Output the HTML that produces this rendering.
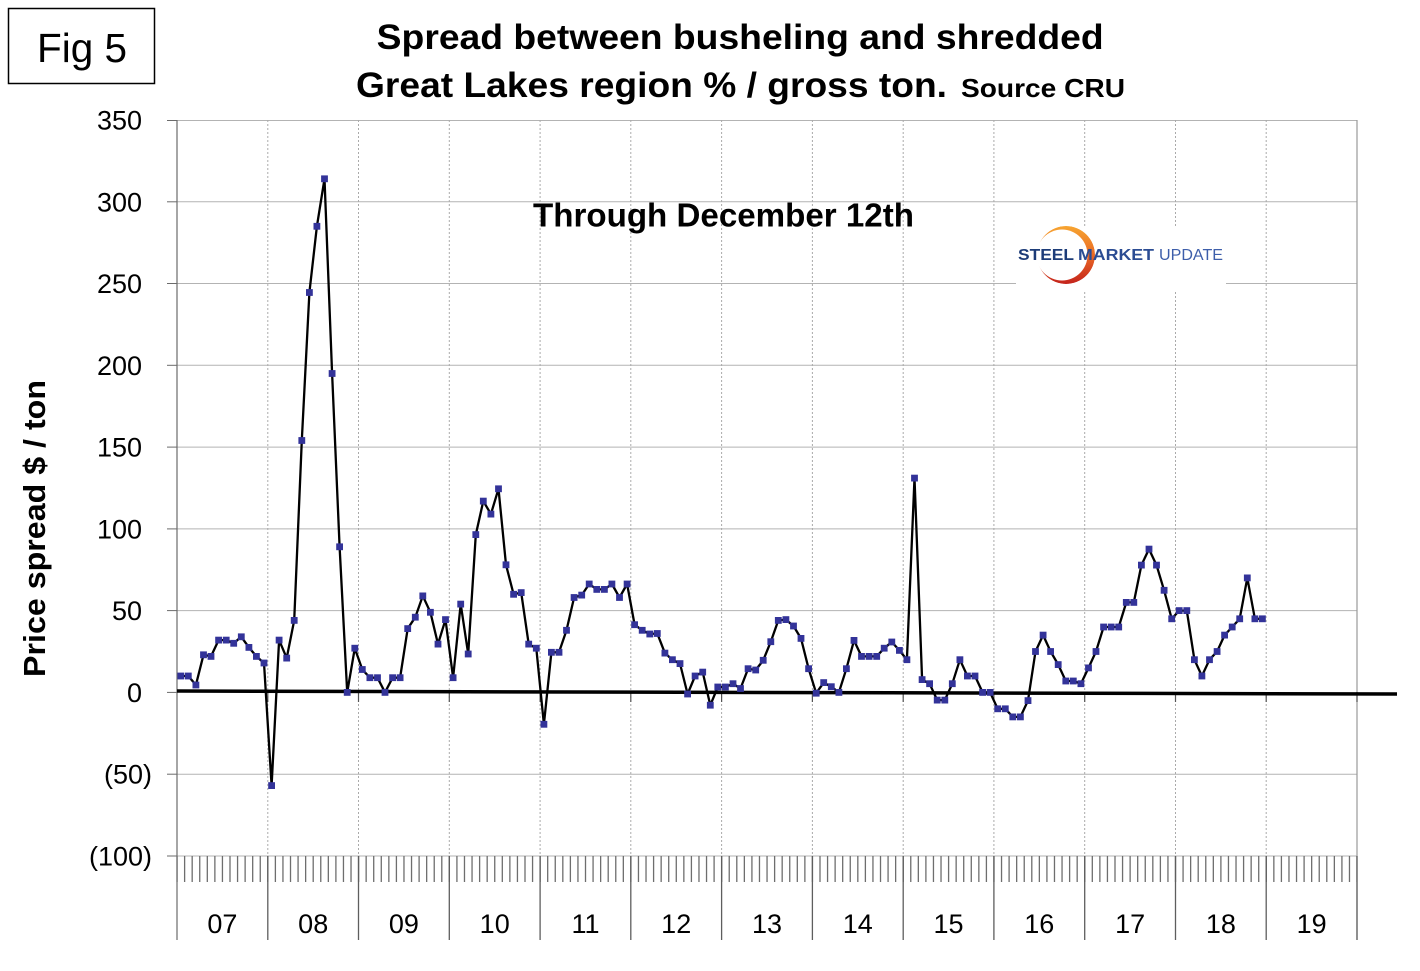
<!DOCTYPE html>
<html>
<head>
<meta charset="utf-8">
<style>
html,body{margin:0;padding:0;background:#fff;}
svg{display:block;}
text{font-family:"Liberation Sans",Arial,sans-serif;}
</style>
</head>
<body>
<svg width="1420" height="971" viewBox="0 0 1420 971" xmlns="http://www.w3.org/2000/svg">
<defs>
  <marker id="sq" markerUnits="userSpaceOnUse" markerWidth="8" markerHeight="8" refX="4" refY="4" viewBox="0 0 8 8">
    <rect x="0.6" y="0.6" width="6.8" height="6.8" fill="#333399"/>
  </marker>
  <linearGradient id="arcg" x1="0" y1="0" x2="0" y2="1">
    <stop offset="0" stop-color="#f7a531"/>
    <stop offset="0.5" stop-color="#ea6a25"/>
    <stop offset="1" stop-color="#c4231c"/>
  </linearGradient>
  <mask id="cm" maskUnits="userSpaceOnUse" x="1020" y="210" width="100" height="90">
    <circle cx="1066" cy="255" r="29" fill="#fff"/>
    <circle cx="1062" cy="255" r="25.5" fill="#000"/>
  </mask>
</defs>

<!-- Fig 5 box -->
<rect x="8.5" y="8.5" width="146" height="75" fill="#fff" stroke="#000" stroke-width="1.5"/>
<text x="37" y="62" font-size="41" textLength="90" lengthAdjust="spacingAndGlyphs">Fig 5</text>

<!-- Title -->
<text x="376.7" y="49" font-size="35" font-weight="bold" textLength="727" lengthAdjust="spacingAndGlyphs">Spread between busheling and shredded</text>
<text x="356" y="97" font-size="35" font-weight="bold" textLength="591" lengthAdjust="spacingAndGlyphs">Great Lakes region % / gross ton.</text>
<text x="961" y="97" font-size="26" font-weight="bold" textLength="164" lengthAdjust="spacingAndGlyphs">Source CRU</text>

<!-- horizontal gridlines -->
<g stroke="#b3b3b3" stroke-width="1">
  <line x1="177" y1="120.5" x2="1357" y2="120.5"/>
  <line x1="177" y1="201.8" x2="1357" y2="201.8"/>
  <line x1="177" y1="283.5" x2="1357" y2="283.5"/>
  <line x1="177" y1="365.3" x2="1357" y2="365.3"/>
  <line x1="177" y1="447.1" x2="1357" y2="447.1"/>
  <line x1="177" y1="528.9" x2="1357" y2="528.9"/>
  <line x1="177" y1="610.6" x2="1357" y2="610.6"/>
  <line x1="177" y1="774.2" x2="1357" y2="774.2"/>
  <line x1="177" y1="856" x2="1357" y2="856"/>
</g>

<!-- vertical dotted year gridlines -->
<g stroke="#aaaaaa" stroke-width="1" stroke-dasharray="2 2">
  <line x1="267.8" y1="120" x2="267.8" y2="856"/>
  <line x1="358.5" y1="120" x2="358.5" y2="856"/>
  <line x1="449.3" y1="120" x2="449.3" y2="856"/>
  <line x1="540.1" y1="120" x2="540.1" y2="856"/>
  <line x1="630.8" y1="120" x2="630.8" y2="856"/>
  <line x1="721.6" y1="120" x2="721.6" y2="856"/>
  <line x1="812.4" y1="120" x2="812.4" y2="856"/>
  <line x1="903.2" y1="120" x2="903.2" y2="856"/>
  <line x1="993.9" y1="120" x2="993.9" y2="856"/>
  <line x1="1084.7" y1="120" x2="1084.7" y2="856"/>
  <line x1="1175.5" y1="120" x2="1175.5" y2="856"/>
  <line x1="1266.2" y1="120" x2="1266.2" y2="856"/>
</g>

<!-- logo background -->
<rect x="1016" y="226" width="210" height="65" fill="#fff"/>
<!-- logo crescent -->
<circle cx="1066" cy="255" r="29" fill="url(#arcg)" mask="url(#cm)"/>
<text x="1018" y="260" font-size="15.5" font-weight="bold" fill="#1d3c78" textLength="56" lengthAdjust="spacingAndGlyphs">STEEL</text>
<text x="1078" y="260" font-size="15.5" font-weight="bold" fill="#2b4c93" textLength="76" lengthAdjust="spacingAndGlyphs">MARKET</text>
<text x="1159" y="260" font-size="15.5" fill="#3d5eaa" textLength="64" lengthAdjust="spacingAndGlyphs">UPDATE</text>

<!-- Through December -->
<text x="533" y="226.5" font-size="33" font-weight="bold" textLength="381" lengthAdjust="spacingAndGlyphs">Through December 12th</text>

<!-- left axis & right border -->
<line x1="177" y1="120" x2="177" y2="940" stroke="#6b6b6b" stroke-width="1.2"/>
<line x1="1357" y1="120" x2="1357" y2="940" stroke="#9a9a9a" stroke-width="1.2"/>

<!-- y ticks -->
<g stroke="#6b6b6b" stroke-width="1">
  <line x1="167" y1="120.5" x2="177" y2="120.5"/>
  <line x1="167" y1="201.8" x2="177" y2="201.8"/>
  <line x1="167" y1="283.5" x2="177" y2="283.5"/>
  <line x1="167" y1="365.3" x2="177" y2="365.3"/>
  <line x1="167" y1="447.1" x2="177" y2="447.1"/>
  <line x1="167" y1="528.9" x2="177" y2="528.9"/>
  <line x1="167" y1="610.6" x2="177" y2="610.6"/>
  <line x1="167" y1="692.4" x2="177" y2="692.4"/>
  <line x1="167" y1="774.2" x2="177" y2="774.2"/>
  <line x1="167" y1="856" x2="177" y2="856"/>
</g>

<!-- y labels -->
<g font-size="27" text-anchor="end" fill="#000">
  <text x="142" y="129.5">350</text>
  <text x="142" y="211.3">300</text>
  <text x="142" y="293">250</text>
  <text x="142" y="374.8">200</text>
  <text x="142" y="456.6">150</text>
  <text x="142" y="538.4">100</text>
  <text x="142" y="620.1">50</text>
  <text x="142" y="701.9">0</text>
  <text x="152" y="783.7">(50)</text>
  <text x="152" y="865.5">(100)</text>
</g>

<!-- y title -->
<text transform="translate(45,528.5) rotate(-90)" x="0" y="0" font-size="31" font-weight="bold" text-anchor="middle" textLength="297" lengthAdjust="spacingAndGlyphs">Price spread $ / ton</text>

<!-- month ticks -->
<line x1="176.4" y1="869" x2="1357" y2="869" stroke="#6e6e6e" stroke-width="26" stroke-dasharray="1.3 6.2641"/>
<!-- year dividers -->
<g stroke="#5e5e5e" stroke-width="1.3">
  <line x1="267.8" y1="856" x2="267.8" y2="940"/>
  <line x1="358.5" y1="856" x2="358.5" y2="940"/>
  <line x1="449.3" y1="856" x2="449.3" y2="940"/>
  <line x1="540.1" y1="856" x2="540.1" y2="940"/>
  <line x1="630.8" y1="856" x2="630.8" y2="940"/>
  <line x1="721.6" y1="856" x2="721.6" y2="940"/>
  <line x1="812.4" y1="856" x2="812.4" y2="940"/>
  <line x1="903.2" y1="856" x2="903.2" y2="940"/>
  <line x1="993.9" y1="856" x2="993.9" y2="940"/>
  <line x1="1084.7" y1="856" x2="1084.7" y2="940"/>
  <line x1="1175.5" y1="856" x2="1175.5" y2="940"/>
  <line x1="1266.2" y1="856" x2="1266.2" y2="940"/>
  <line x1="1357" y1="856" x2="1357" y2="940"/>
</g>

<!-- x labels -->
<g font-size="27" text-anchor="middle" fill="#000">
  <text x="222.4" y="933">07</text>
  <text x="313.2" y="933">08</text>
  <text x="403.9" y="933">09</text>
  <text x="494.7" y="933">10</text>
  <text x="585.5" y="933">11</text>
  <text x="676.2" y="933">12</text>
  <text x="767" y="933">13</text>
  <text x="857.8" y="933">14</text>
  <text x="948.5" y="933">15</text>
  <text x="1039.3" y="933">16</text>
  <text x="1130.1" y="933">17</text>
  <text x="1220.9" y="933">18</text>
  <text x="1311.6" y="933">19</text>
</g>

<!-- ticks at zero line -->
<g stroke="#555" stroke-width="1.2">
  <line x1="267.8" y1="692" x2="267.8" y2="702"/>
  <line x1="358.5" y1="692" x2="358.5" y2="702"/>
  <line x1="449.3" y1="692" x2="449.3" y2="702"/>
  <line x1="540.1" y1="692" x2="540.1" y2="702"/>
  <line x1="630.8" y1="692" x2="630.8" y2="702"/>
  <line x1="721.6" y1="692" x2="721.6" y2="702"/>
  <line x1="812.4" y1="692" x2="812.4" y2="702"/>
  <line x1="903.2" y1="692" x2="903.2" y2="702"/>
  <line x1="993.9" y1="692" x2="993.9" y2="702"/>
  <line x1="1084.7" y1="692" x2="1084.7" y2="702"/>
  <line x1="1175.5" y1="692" x2="1175.5" y2="702"/>
  <line x1="1266.2" y1="692" x2="1266.2" y2="702"/>
  <line x1="1357" y1="692" x2="1357" y2="702"/>
</g>

<!-- zero line -->
<line x1="177" y1="691" x2="1397" y2="694" stroke="#000" stroke-width="3.5"/>

<!-- series -->
<polyline fill="none" stroke="#000" stroke-width="2.3" stroke-linejoin="round"
  marker-start="url(#sq)" marker-mid="url(#sq)" marker-end="url(#sq)"
  points="180.8,676.0 188.3,676.0 195.9,685.0 203.5,654.8 211.0,656.4 218.6,640.1 226.2,640.1 233.7,643.3 241.3,636.8 248.9,647.4 256.4,656.4 264.0,663.0 271.6,785.6 279.1,640.1 286.7,658.1 294.2,620.4 301.8,440.5 309.4,292.5 316.9,226.3 324.5,178.8 332.1,373.5 339.6,546.8 347.2,692.4 354.8,648.2 362.3,669.5 369.9,677.7 377.5,677.7 385.0,692.4 392.6,677.7 400.1,677.7 407.7,628.6 415.3,617.2 422.8,595.9 430.4,612.3 438.0,644.1 445.5,619.6 453.1,677.7 460.7,604.1 468.2,654.0 475.8,534.6 483.3,501.1 490.9,514.1 498.5,488.8 506.0,564.8 513.6,594.3 521.2,592.6 528.7,644.1 536.3,648.2 543.9,724.3 551.4,652.3 559.0,652.3 566.5,630.3 574.1,597.5 581.7,595.1 589.2,584.0 596.8,589.4 604.4,589.4 611.9,584.0 619.5,597.5 627.1,584.0 634.6,624.7 642.2,630.3 649.8,634.0 657.3,633.5 664.9,653.1 672.4,659.7 680.0,663.6 687.6,694.0 695.1,676.0 702.7,672.1 710.3,705.2 717.8,687.0 725.4,687.0 733.0,683.7 740.5,688.5 748.1,668.7 755.7,670.0 763.2,660.3 770.8,641.7 778.3,620.4 785.9,619.6 793.5,626.0 801.0,638.4 808.6,668.7 816.2,693.2 823.7,682.6 831.3,686.7 838.9,692.4 846.4,668.7 854.0,640.4 861.5,656.4 869.1,656.4 876.7,656.4 884.2,648.2 891.8,642.0 899.4,650.4 906.9,659.7 914.5,478.1 922.1,679.6 929.6,683.7 937.2,700.1 944.8,700.1 952.3,683.7 959.9,659.7 967.4,676.0 975.0,676.0 982.6,692.4 990.1,692.4 997.7,708.8 1005.3,708.8 1012.8,716.9 1020.4,716.9 1028.0,700.6 1035.5,651.5 1043.1,635.1 1050.6,651.5 1058.2,664.6 1065.8,681.0 1073.3,681.0 1080.9,683.7 1088.5,667.9 1096.0,651.5 1103.6,627.0 1111.2,627.0 1118.7,627.0 1126.3,602.4 1133.8,602.4 1141.4,565.1 1149.0,549.1 1156.5,565.1 1164.1,590.3 1171.7,618.8 1179.2,610.6 1186.8,610.6 1194.4,659.7 1201.9,676.0 1209.5,659.7 1217.1,651.5 1224.6,635.1 1232.2,627.0 1239.7,618.8 1247.3,577.9 1254.9,618.8 1262.4,618.8"/>
</svg>
</body>
</html>
